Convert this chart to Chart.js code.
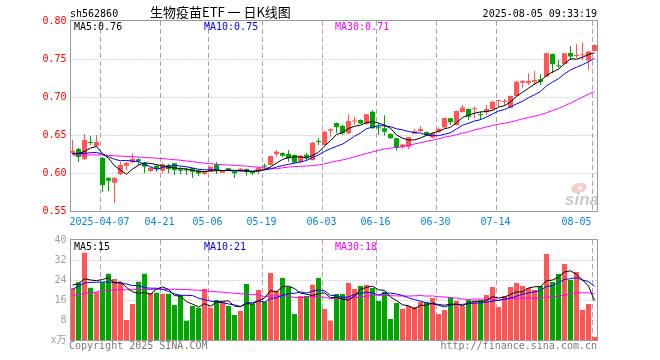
<!DOCTYPE html>
<html><head><meta charset="utf-8">
<script src="https://cdn.jsdelivr.net/npm/chart.js@4.4.1/dist/chart.umd.min.js"></script>
<style>
html,body{margin:0;padding:0;background:#fff;}
#wrap{position:relative;width:660px;height:360px;overflow:hidden;background:#fff;}
#c1{position:absolute;left:0;top:0;}
#c2{position:absolute;left:0;top:230px;}
</style></head><body>
<div id="wrap"><canvas id="c1" width="660" height="230"></canvas><canvas id="c2" width="660" height="130"></canvas></div>
<script>
// ---------- data ----------
const dates = ['2025-03-28','2025-03-31','2025-04-01','2025-04-02','2025-04-03','2025-04-07','2025-04-08','2025-04-09','2025-04-10','2025-04-11',
'2025-04-14','2025-04-15','2025-04-16','2025-04-17','2025-04-18','2025-04-21','2025-04-22','2025-04-23','2025-04-24','2025-04-25',
'2025-04-28','2025-04-29','2025-04-30','2025-05-06','2025-05-07','2025-05-08','2025-05-09','2025-05-12','2025-05-13','2025-05-14',
'2025-05-15','2025-05-16','2025-05-19','2025-05-20','2025-05-21','2025-05-22','2025-05-23','2025-05-26','2025-05-27','2025-05-28',
'2025-05-29','2025-05-30','2025-06-03','2025-06-04','2025-06-05','2025-06-06','2025-06-09','2025-06-10','2025-06-11','2025-06-12',
'2025-06-13','2025-06-16','2025-06-17','2025-06-18','2025-06-19','2025-06-20','2025-06-23','2025-06-24','2025-06-25','2025-06-26',
'2025-06-27','2025-06-30','2025-07-01','2025-07-02','2025-07-03','2025-07-04','2025-07-07','2025-07-08','2025-07-09','2025-07-10',
'2025-07-11','2025-07-14','2025-07-15','2025-07-16','2025-07-17','2025-07-18','2025-07-21','2025-07-22','2025-07-23','2025-07-24',
'2025-07-25','2025-07-28','2025-07-29','2025-07-30','2025-07-31','2025-08-01','2025-08-04','2025-08-05'];

const tickDates  = ['2025-04-07','2025-04-21','2025-05-06','2025-05-19','2025-06-03','2025-06-16','2025-06-30','2025-07-14','2025-08-05'];
const tickLabels = ['2025-04-07','04-21','05-06','05-19','06-03','06-16','06-30','07-14','08-05'];

const open = [0.6259,0.6316,0.6184,0.6404,0.6355,0.6197,0.5938,0.5872,0.5983,0.6096,
0.6141,0.6180,0.6136,0.6026,0.6096,0.6030,0.6105,0.6128,0.6049,0.6049,
0.6062,0.6033,0.5991,0.6017,0.6112,0.6004,0.6062,0.6020,0.6030,0.6053,
0.6017,0.6017,0.6092,0.6105,0.6246,0.6263,0.6250,0.6237,0.6145,0.6241,
0.6171,0.6417,0.6368,0.6557,0.6658,0.6618,0.6522,0.6678,0.6697,0.6645,
0.6807,0.6599,0.6588,0.6513,0.6457,0.6338,0.6346,0.6517,0.6549,0.6539,
0.6467,0.6543,0.6599,0.6720,0.6632,0.6803,0.6842,0.6838,0.6767,0.6799,
0.6842,0.6947,0.6934,0.6859,0.7013,0.7188,0.7180,0.7201,0.7233,0.7267,
0.7566,0.7412,0.7434,0.7579,0.7539,0.7549,0.7480,0.7605];

const high = [0.6434,0.6329,0.6513,0.6487,0.6500,0.6211,0.5941,0.5941,0.6149,0.6149,
0.6259,0.6201,0.6145,0.6079,0.6105,0.6136,0.6118,0.6132,0.6083,0.6070,
0.6070,0.6053,0.6026,0.6086,0.6145,0.6039,0.6066,0.6026,0.6066,0.6059,
0.6026,0.6079,0.6125,0.6230,0.6303,0.6270,0.6303,0.6243,0.6237,0.6267,
0.6408,0.6457,0.6553,0.6586,0.6664,0.6632,0.6772,0.6741,0.6704,0.6776,
0.6829,0.6654,0.6759,0.6522,0.6461,0.6382,0.6474,0.6579,0.6618,0.6546,
0.6533,0.6601,0.6730,0.6724,0.6822,0.6895,0.6849,0.6872,0.6807,0.6895,
0.6947,0.6961,0.6974,0.7020,0.7211,0.7224,0.7312,0.7342,0.7299,0.7583,
0.7572,0.7487,0.7583,0.7671,0.7697,0.7717,0.7605,0.7691];

const low = [0.6250,0.6145,0.6171,0.6368,0.6342,0.5750,0.5763,0.5605,0.5974,0.6039,
0.6128,0.6105,0.5996,0.6013,0.6017,0.5996,0.5996,0.5974,0.5983,0.5974,
0.5934,0.5961,0.5974,0.6013,0.5987,0.6000,0.6026,0.5934,0.6020,0.5964,
0.5974,0.5983,0.6053,0.6099,0.6214,0.6207,0.6149,0.6128,0.6128,0.6162,
0.6164,0.6368,0.6362,0.6478,0.6522,0.6500,0.6513,0.6632,0.6645,0.6632,
0.6579,0.6500,0.6493,0.6447,0.6296,0.6320,0.6312,0.6513,0.6543,0.6493,
0.6461,0.6522,0.6592,0.6632,0.6625,0.6796,0.6697,0.6720,0.6697,0.6763,
0.6836,0.6872,0.6886,0.6855,0.7007,0.7114,0.7158,0.7158,0.7158,0.7263,
0.7312,0.7378,0.7428,0.7487,0.7509,0.7487,0.7355,0.7599];

const close = [0.6293,0.6211,0.6434,0.6395,0.6408,0.5842,0.5899,0.5938,0.6105,0.6136,
0.6184,0.6158,0.6083,0.6070,0.6053,0.6114,0.6053,0.6039,0.6030,0.6033,
0.6017,0.5993,0.6017,0.6083,0.6039,0.6026,0.6030,0.5996,0.6057,0.6017,
0.5996,0.6070,0.6086,0.6224,0.6280,0.6228,0.6193,0.6138,0.6228,0.6193,
0.6399,0.6408,0.6543,0.6575,0.6605,0.6522,0.6684,0.6684,0.6651,0.6772,
0.6588,0.6588,0.6543,0.6457,0.6329,0.6375,0.6470,0.6549,0.6579,0.6500,
0.6526,0.6583,0.6724,0.6667,0.6816,0.6862,0.6741,0.6842,0.6759,0.6842,
0.6938,0.6951,0.6938,0.7013,0.7201,0.7211,0.7211,0.7224,0.7201,0.7575,
0.7430,0.7404,0.7575,0.7533,0.7543,0.7553,0.7599,0.7684];

const ma5 = [0.6250,0.6257,0.6283,0.6329,0.6348,0.6258,0.6196,0.6096,0.6038,0.5984,
0.6052,0.6104,0.6133,0.6126,0.6110,0.6096,0.6075,0.6066,0.6058,0.6054,
0.6034,0.6022,0.6018,0.6029,0.6030,0.6032,0.6039,0.6035,0.6030,0.6025,
0.6019,0.6027,0.6045,0.6079,0.6131,0.6178,0.6202,0.6213,0.6213,0.6196,
0.6230,0.6273,0.6354,0.6424,0.6506,0.6531,0.6586,0.6614,0.6629,0.6663,
0.6676,0.6657,0.6628,0.6590,0.6501,0.6458,0.6435,0.6436,0.6460,0.6495,
0.6525,0.6547,0.6582,0.6600,0.6663,0.6730,0.6762,0.6786,0.6804,0.6809,
0.6824,0.6866,0.6886,0.6936,0.7008,0.7063,0.7115,0.7172,0.7210,0.7284,
0.7328,0.7367,0.7437,0.7503,0.7497,0.7522,0.7561,0.7582];

const ma10 = [0.6259,0.6254,0.6259,0.6267,0.6270,0.6246,0.6215,0.6180,0.6162,0.6166,
0.6155,0.6150,0.6115,0.6082,0.6047,0.6074,0.6089,0.6100,0.6092,0.6082,
0.6065,0.6049,0.6042,0.6043,0.6042,0.6033,0.6031,0.6026,0.6029,0.6028,
0.6025,0.6033,0.6040,0.6054,0.6078,0.6098,0.6115,0.6129,0.6146,0.6164,
0.6204,0.6238,0.6283,0.6319,0.6351,0.6380,0.6430,0.6484,0.6526,0.6584,
0.6603,0.6621,0.6621,0.6609,0.6582,0.6567,0.6546,0.6532,0.6525,0.6498,
0.6492,0.6491,0.6509,0.6530,0.6579,0.6628,0.6655,0.6684,0.6702,0.6736,
0.6777,0.6814,0.6836,0.6870,0.6909,0.6944,0.6991,0.7029,0.7073,0.7146,
0.7196,0.7241,0.7305,0.7357,0.7391,0.7425,0.7464,0.7510];

const ma30 = [0.6235,0.6237,0.6238,0.6238,0.6238,0.6236,0.6232,0.6227,0.6222,0.6218,
0.6214,0.6210,0.6205,0.6200,0.6195,0.6190,0.6182,0.6175,0.6168,0.6158,
0.6150,0.6138,0.6130,0.6122,0.6115,0.6110,0.6105,0.6100,0.6096,0.6092,
0.6082,0.6077,0.6066,0.6060,0.6056,0.6068,0.6078,0.6085,0.6089,0.6091,
0.6098,0.6106,0.6122,0.6139,0.6157,0.6171,0.6192,0.6213,0.6234,0.6258,
0.6278,0.6297,0.6315,0.6327,0.6337,0.6349,0.6363,0.6382,0.6399,0.6415,
0.6433,0.6450,0.6471,0.6486,0.6504,0.6525,0.6543,0.6567,0.6584,0.6606,
0.6624,0.6642,0.6655,0.6670,0.6690,0.6713,0.6730,0.6748,0.6767,0.6793,
0.6822,0.6849,0.6883,0.6919,0.6959,0.6999,0.7036,0.7074];

const volume = [20.7,23.1,34.9,20.9,19.1,23.1,26.5,24.4,23.1,8.0,
14.4,23.3,26.5,18.9,18.9,18.5,18.5,14.0,17.9,7.7,
13.6,12.9,20.4,12.9,16.0,15.3,13.6,10.0,11.6,22.4,
14.4,20.0,15.3,26.8,19.7,24.8,21.2,10.4,17.6,17.6,
22.1,24.8,12.4,7.7,18.4,18.4,22.8,20.4,21.6,22.0,
20.8,15.6,19.3,8.4,14.8,12.4,13.6,13.2,15.2,15.2,
16.8,10.4,12.0,17.2,15.6,13.6,16.0,15.6,16.0,18.0,
21.2,13.2,17.6,21.2,22.8,21.6,20.8,20.0,21.6,34.4,
23.2,26.4,30.4,24.0,27.2,12.0,14.4,1.2];

const vma5 = [22.0,22.5,24.5,24.0,23.74,24.22,24.9,22.8,23.24,21.02,
19.28,18.64,19.06,18.22,20.4,21.22,20.26,17.76,17.56,15.32,
14.34,13.22,14.5,13.5,15.16,15.5,15.64,13.56,13.3,14.58,
14.4,15.68,16.74,19.78,19.24,21.32,21.56,20.58,18.74,18.32,
17.78,18.5,18.9,16.92,17.08,16.34,15.94,17.54,20.32,21.04,
21.52,20.08,19.86,17.22,15.78,14.1,13.7,12.48,13.84,13.92,
14.8,14.16,13.92,14.32,14.4,13.76,14.88,15.6,15.36,15.84,
17.36,16.8,17.2,18.24,19.2,19.28,20.8,21.28,21.36,23.68,
24.0,25.12,27.2,27.68,26.24,24.0,21.6,15.76];

const vma10 = [20.3,21.5,22.8,23.0,23.1,23.2,23.2,23.0,22.7,22.38,
21.75,21.77,20.93,20.73,20.71,20.25,19.45,18.41,17.89,17.86,
17.78,16.74,16.13,15.53,15.24,14.92,14.43,14.03,13.4,14.87,
14.95,15.66,15.15,16.54,16.91,17.86,18.62,18.66,19.26,18.78,
19.55,20.03,19.74,17.83,17.7,17.06,17.22,18.22,18.62,19.06,
18.93,18.01,18.7,18.77,18.41,17.81,16.89,16.17,15.53,14.85,
14.45,13.93,13.2,14.08,14.16,14.28,14.52,14.76,14.84,15.12,
15.56,15.84,16.4,16.8,17.52,18.32,18.8,19.24,19.8,21.44,
21.64,22.96,24.24,24.52,24.96,24.0,23.36,21.48];

const vma30 = [17.9,18.2,18.5,18.8,19.2,19.6,19.9,20.0,20.1,20.1,
20.1,20.2,20.2,20.2,20.3,20.3,20.3,20.3,20.2,20.2,
20.0,19.9,19.7,19.5,19.3,19.1,18.9,18.7,18.5,18.37,
18.16,18.06,17.40,17.6,17.62,17.68,17.5,17.03,16.85,17.17,
17.43,17.48,17.01,16.63,16.62,16.61,16.76,16.97,17.09,17.57,
17.81,17.9,17.86,17.71,17.67,17.58,17.58,17.68,17.8,17.56,
17.64,17.32,17.21,16.89,16.76,16.38,16.21,16.38,16.33,16.34,
16.31,15.93,16.1,16.55,16.7,16.8,16.74,16.72,16.72,17.14,
17.22,17.58,17.95,18.47,18.88,18.87,18.89,18.49];

// ---------- styling ----------
const RED = '#ff5555', GREEN = '#00a600';
const MONO = '"DejaVu Sans Mono", "Liberation Mono", monospace';
const last = dates.length - 1;
const candleColors = dates.map((d, i) => close[i] >= open[i] ? RED : GREEN);
const gridIdx = tickDates.map(d => dates.indexOf(d));

// grid + frame drawn from the chart's own scales
const gridPlugin = {
  id: 'gridLines',
  beforeDatasetsDraw(chart) {
    const {ctx, chartArea: a, scales: {x, y}} = chart;
    ctx.save();
    ctx.lineWidth = 1;
    // horizontal dotted lines at inner y ticks
    ctx.strokeStyle = '#b4b4b4';
    ctx.setLineDash([1, 2]);
    y.ticks.forEach(t => {
      if (Math.abs(t.value - y.min) < 1e-6 || Math.abs(t.value - y.max) < 1e-6) return;
      const py = Math.round(y.getPixelForValue(t.value)) - 0.5 + 1;
      ctx.beginPath(); ctx.moveTo(a.left + 1, py); ctx.lineTo(a.right, py); ctx.stroke();
    });
    // vertical dashed lines at the left edge of the labelled dates
    ctx.strokeStyle = '#a8a8a8';
    ctx.setLineDash([5, 3]);
    gridIdx.forEach(i => {
      const edge = (x.getPixelForValue(i) + x.getPixelForValue(i - 1)) / 2;
      const px = Math.round(edge) + 0.5;
      ctx.beginPath(); ctx.moveTo(px, a.top); ctx.lineTo(px, a.bottom); ctx.stroke();
    });
    ctx.restore();
  },
  afterDraw(chart) {
    const {ctx, chartArea: a} = chart;
    ctx.save();
    ctx.strokeStyle = '#9a9a9a';
    ctx.lineWidth = 1;
    ctx.strokeRect(a.left + 1, a.top - 0.5, a.right - a.left - 1, a.bottom - a.top + 1);
    ctx.restore();
  }
};

function xScale(showTicks) {
  return {
    type: 'category',
    offset: true,
    grid: { display: false, drawTicks: false },
    border: { display: false },
    ticks: showTicks ? {
      autoSkip: false, maxRotation: 0, minRotation: 0, labelOffset: -3, padding: 5,
      color: '#0a82e8', font: { family: MONO, size: 10 },
      callback: (v, i) => {
        const k = tickDates.indexOf(dates[i]);
        if (k < 0) return '';
        return tickLabels[k] + (i === last ? '     ' : '');
      }
    } : { display: false },
    afterFit: s => { s.height = showTicks ? 19 : 0; }
  };
}

// ---------- price chart ----------
const pricePlugin = {
  id: 'priceText',
  beforeDatasetsDraw(chart) {
    const ctx = chart.ctx;
    ctx.save();
    ctx.fillStyle = 'rgba(235,140,140,0.45)';
    ctx.beginPath(); ctx.ellipse(579, 188, 8, 5, -0.3, 0, Math.PI * 2); ctx.fill();
    ctx.fillStyle = '#ffffff';
    ctx.beginPath(); ctx.arc(580, 188, 2, 0, Math.PI * 2); ctx.fill();
    ctx.font = 'italic bold 17px "Liberation Sans", sans-serif';
    ctx.fillStyle = '#c9c9c9';
    ctx.textAlign = 'left';
    ctx.fillText('sina', 565, 205);
    ctx.restore();
  },
  afterDraw(chart) {
    const ctx = chart.ctx;
    ctx.save();
    ctx.textBaseline = 'alphabetic';
    ctx.font = '10px ' + MONO;
    ctx.fillStyle = '#000';
    ctx.textAlign = 'left';
    ctx.fillText('sh562860', 70, 17);
    ctx.textAlign = 'right';
    ctx.fillText('2025-08-05 09:33:19', 597, 17);
    ctx.textAlign = 'left';
    ctx.font = '13px "Noto Sans CJK SC", sans-serif';
    ctx.fillText('生物疫苗ETF 一 日K线图', 150, 17);
    ctx.font = '10px ' + MONO;
    ctx.fillStyle = '#000000';
    ctx.fillText('MA5:' + ma5[last].toFixed(2), 74, 30);
    ctx.fillStyle = '#0000ff';
    ctx.fillText('MA10:' + ma10[last].toFixed(2), 204, 30);
    ctx.fillStyle = '#ff00ff';
    ctx.fillText('MA30:' + ma30[last].toFixed(2), 335, 30);
    ctx.restore();
  }
};

new Chart(document.getElementById('c1'), {
  type: 'bar',
  data: {
    labels: dates,
    datasets: [
      { type: 'line', label: 'MA5', data: ma5, borderColor: '#000000', borderWidth: 1, pointRadius: 0, tension: 0, fill: false, order: 0 },
      { type: 'line', label: 'MA10', data: ma10, borderColor: '#0000ff', borderWidth: 1, pointRadius: 0, tension: 0, fill: false, order: 0 },
      { type: 'line', label: 'MA30', data: ma30, borderColor: '#ff00ff', borderWidth: 1, pointRadius: 0, tension: 0, fill: false, order: 0 },
      { type: 'bar', label: 'body', data: dates.map((d, i) => [open[i], close[i]]), backgroundColor: candleColors,
        barThickness: 5, grouped: false, minBarLength: 1, inflateAmount: 0, borderWidth: 0, order: 1 },
      { type: 'bar', label: 'wick', data: dates.map((d, i) => [low[i], high[i]]), backgroundColor: candleColors,
        barThickness: 1, grouped: false, inflateAmount: 0, borderWidth: 0, order: 2 }
    ]
  },
  options: {
    responsive: false, animation: false, events: [], devicePixelRatio: 1,
    layout: { padding: { left: 0, right: 62.5, top: 21, bottom: 0 } },
    plugins: { legend: { display: false }, tooltip: { enabled: false } },
    scales: {
      x: xScale(true),
      y: {
        min: 0.55, max: 0.80,
        grid: { display: false, drawTicks: false },
        border: { display: false },
        ticks: { stepSize: 0.05, padding: 3, color: '#ff0000', font: { family: MONO, size: 10 },
          callback: v => Number(v).toFixed(2) },
        afterFit: s => { s.width = 69.5; }
      }
    }
  },
  plugins: [gridPlugin, pricePlugin]
});

// ---------- volume chart ----------
const volPlugin = {
  id: 'volText',
  afterDraw(chart) {
    const ctx = chart.ctx;
    ctx.save();
    ctx.textBaseline = 'alphabetic';
    ctx.font = '10px ' + MONO;
    ctx.textAlign = 'left';
    ctx.fillStyle = '#000000';
    ctx.fillText('MA5:' + Math.floor(vma5[last]), 74, 20);
    ctx.fillStyle = '#0000ff';
    ctx.fillText('MA10:' + Math.floor(vma10[last]), 204, 20);
    ctx.fillStyle = '#ff00ff';
    ctx.fillText('MA30:' + Math.floor(vma30[last]), 335, 20);
    ctx.fillStyle = '#7a7a7a';
    ctx.fillText('Copyright 2025 SINA.COM', 69, 119);
    ctx.textAlign = 'right';
    ctx.fillText('http://finance.sina.com.cn', 597, 119);
    ctx.restore();
  }
};

new Chart(document.getElementById('c2'), {
  type: 'bar',
  data: {
    labels: dates,
    datasets: [
      { type: 'line', label: 'VMA5', data: vma5, borderColor: '#000000', borderWidth: 1, pointRadius: 0, tension: 0, fill: false, order: 0 },
      { type: 'line', label: 'VMA10', data: vma10, borderColor: '#0000ff', borderWidth: 1, pointRadius: 0, tension: 0, fill: false, order: 0 },
      { type: 'line', label: 'VMA30', data: vma30, borderColor: '#ff00ff', borderWidth: 1, pointRadius: 0, tension: 0, fill: false, order: 0 },
      { type: 'bar', label: 'volume', data: volume, backgroundColor: candleColors,
        barThickness: 5, grouped: false, inflateAmount: 0, borderWidth: 0, order: 1 }
    ]
  },
  options: {
    responsive: false, animation: false, events: [], devicePixelRatio: 1,
    layout: { padding: { left: 0, right: 62.5, top: 10, bottom: 20 } },
    plugins: { legend: { display: false }, tooltip: { enabled: false } },
    scales: {
      x: xScale(false),
      y: {
        min: 0, max: 40,
        grid: { display: false, drawTicks: false },
        border: { display: false },
        ticks: { stepSize: 8, padding: 3, color: '#a0a0a0', font: { family: MONO + ', "Noto Sans CJK SC"', size: 10 },
          callback: v => v === 0 ? 'x万' : String(v) },
        afterFit: s => { s.width = 69.5; }
      }
    }
  },
  plugins: [gridPlugin, volPlugin]
});
</script>
</body></html>
